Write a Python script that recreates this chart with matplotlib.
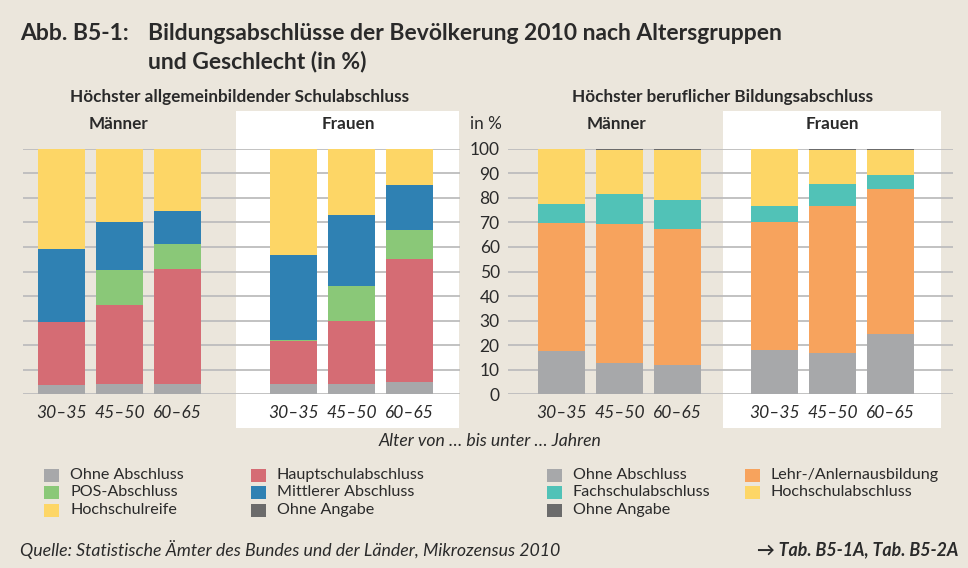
import matplotlib
matplotlib.use("Agg")
import matplotlib.pyplot as plt
from matplotlib.patches import Rectangle
import numpy as np

# Altersgruppen
groups = ["30–35", "45–50", "60–65"]

# Höchster allgemeinbildender Schulabschluss (in %), Männer / Frauen
schul_ohne_m = [3.8, 4.2, 4.2]
schul_ohne_f = [4.2, 4.2, 5.0]
schul_haupt_m = [25.8, 32.2, 46.8]
schul_haupt_f = [17.6, 25.7, 50.1]
schul_pos_m = [0.0, 14.2, 10.2]
schul_pos_f = [0.5, 14.2, 11.8]
schul_mittl_m = [29.7, 19.5, 13.4]
schul_mittl_f = [34.4, 28.9, 18.3]
schul_reife_m = [40.4, 29.6, 25.1]
schul_reife_f = [43.0, 26.7, 14.5]
schul_angabe_m = [0.3, 0.3, 0.3]
schul_angabe_f = [0.3, 0.3, 0.3]

# Höchster beruflicher Bildungsabschluss (in %), Männer / Frauen
beruf_ohne_m = [17.6, 12.8, 11.9]
beruf_ohne_f = [18.2, 17.0, 24.7]
beruf_lehr_m = [52.1, 56.5, 55.4]
beruf_lehr_f = [51.9, 59.7, 58.9]
beruf_fach_m = [7.8, 12.2, 11.8]
beruf_fach_f = [6.6, 8.9, 5.7]
beruf_hoch_m = [22.3, 18.0, 20.4]
beruf_hoch_f = [23.2, 13.9, 10.2]
beruf_angabe_m = [0.2, 0.5, 0.5]
beruf_angabe_f = [0.1, 0.5, 0.5]

schul_labels = ["Ohne Abschluss", "Hauptschulabschluss", "POS-Abschluss",
                "Mittlerer Abschluss", "Hochschulreife", "Ohne Angabe"]
beruf_labels = ["Ohne Abschluss", "Lehr-/Anlernausbildung", "Fachschulabschluss",
                "Hochschulabschluss", "Ohne Angabe"]

C_GREY = "#a7a8aa"
C_RED = "#d56c74"
C_GREEN = "#8ac878"
C_BLUE = "#2f81b3"
C_YELLOW = "#fdd666"
C_DARK = "#6b6b6b"
C_ORANGE = "#f7a35d"
C_TEAL = "#51c2b7"
BG = "#ebe6dc"
TXT = "#2a2a2a"
GRID = "#bdbdbd"

schul_colors = [C_GREY, C_RED, C_GREEN, C_BLUE, C_YELLOW, C_DARK]
beruf_colors = [C_GREY, C_ORANGE, C_TEAL, C_YELLOW, C_DARK]

plt.rcParams["font.family"] = ["Lato", "DejaVu Sans"]
plt.rcParams["text.color"] = TXT

W, H = 968, 568
fig = plt.figure(figsize=(W / 100, H / 100), dpi=100, facecolor=BG)


def fx(x):
    return x / W


def fy(y):
    return 1 - y / H


def box(x0, y0, x1, y1):
    return [fx(x0), fy(y1), fx(x1) - fx(x0), fy(y0) - fy(y1)]


# white panels behind the "Frauen" groups
for x0, x1 in [(236, 459), (723, 941)]:
    fig.add_artist(Rectangle((fx(x0), fy(428)), fx(x1) - fx(x0), fy(111) - fy(428),
                             transform=fig.transFigure, facecolor="white",
                             edgecolor="none", zorder=-5))


def stacked(ax, pos, series, colors):
    bottom = np.zeros(len(pos))
    for vals, col in zip(series, colors):
        ax.bar(pos, vals, 0.81, bottom=bottom, color=col, zorder=3)
        bottom += np.array(vals)


def style(ax, xlim, pos, show_y):
    ax.set_facecolor("none")
    ax.set_xlim(*xlim)
    ax.set_ylim(0, 100)
    ax.set_yticks(range(0, 101, 10))
    ax.yaxis.grid(True, color=GRID, lw=1.3)
    ax.set_axisbelow(True)
    for s in ax.spines.values():
        s.set_visible(False)
    ax.set_xticks(pos)
    ax.set_xticklabels(groups * 2, style="italic", fontsize=12.5)
    ax.tick_params(length=0, pad=8, colors=TXT)
    ax.tick_params(axis="y", labelsize=12.5, pad=6)
    if not show_y:
        ax.set_yticklabels([])


# left chart
ax1 = fig.add_axes(box(23, 148.7, 460, 394.3))
pos1 = [0, 1, 2, 4, 5, 6]
schul = [schul_ohne_m + schul_ohne_f, schul_haupt_m + schul_haupt_f,
         schul_pos_m + schul_pos_f, schul_mittl_m + schul_mittl_f,
         schul_reife_m + schul_reife_f, schul_angabe_m + schul_angabe_f]
stacked(ax1, pos1, schul, schul_colors)
style(ax1, (-0.664, 6.871), pos1, False)

# right chart
ax2 = fig.add_axes(box(508, 148.7, 953, 394.3))
pos2 = [0, 1, 2, 3.67, 4.67, 5.67]
beruf = [beruf_ohne_m + beruf_ohne_f, beruf_lehr_m + beruf_lehr_f,
         beruf_fach_m + beruf_fach_f, beruf_hoch_m + beruf_hoch_f,
         beruf_angabe_m + beruf_angabe_f]
stacked(ax2, pos2, beruf, beruf_colors)
style(ax2, (-0.922, 6.75), pos2, True)

# titles
fig.text(fx(20), fy(33), "Abb. B5-1:", fontsize=16.5, fontweight="bold", va="center")
fig.text(fx(148), fy(33), "Bildungsabschlüsse der Bevölkerung 2010 nach Altersgruppen",
         fontsize=16.5, fontweight="bold", va="center")
fig.text(fx(148), fy(62), "und Geschlecht (in %)", fontsize=16.5, fontweight="bold", va="center")

fig.text(fx(240), fy(97), "Höchster allgemeinbildender Schulabschluss", fontsize=12.3,
         fontweight="bold", ha="center", va="center")
fig.text(fx(723), fy(97), "Höchster beruflicher Bildungsabschluss", fontsize=12.3,
         fontweight="bold", ha="center", va="center")
for x, s in [(119, "Männer"), (348, "Frauen"), (617, "Männer"), (832, "Frauen")]:
    fig.text(fx(x), fy(124), s, fontsize=12.3, fontweight="bold", ha="center", va="center")
fig.text(fx(470), fy(124), "in %", fontsize=12.3, va="center")

fig.text(fx(490), fy(441), "Alter von … bis unter … Jahren", fontsize=12.7,
         style="italic", ha="center", va="center")

# legends
def legend_col(x, y0, labels, colors):
    for i, (lab, col) in enumerate(zip(labels, colors)):
        y = y0 + i * 17.5
        fig.add_artist(Rectangle((fx(x), fy(y + 6.5)), fx(15), 13 / H,
                                 transform=fig.transFigure, facecolor=col, edgecolor="none"))
        fig.text(fx(x + 26), fy(y), lab, fontsize=11.6, va="center")


legend_col(44, 475, [schul_labels[0], schul_labels[2], schul_labels[4]],
           [schul_colors[0], schul_colors[2], schul_colors[4]])
legend_col(251, 475, [schul_labels[1], schul_labels[3], schul_labels[5]],
           [schul_colors[1], schul_colors[3], schul_colors[5]])
legend_col(547, 475, [beruf_labels[0], beruf_labels[2], beruf_labels[4]],
           [beruf_colors[0], beruf_colors[2], beruf_colors[4]])
legend_col(745, 475, [beruf_labels[1], beruf_labels[3]],
           [beruf_colors[1], beruf_colors[3]])

# footer
fig.text(fx(20), fy(550), "Quelle: Statistische Ämter des Bundes und der Länder, Mikrozensus 2010",
         fontsize=12.8, style="italic", va="center")
fig.text(fx(958), fy(550), "→ Tab. B5-1A, Tab. B5-2A", fontsize=12.8, style="italic",
         fontweight="bold", ha="right", va="center")

fig.savefig("out.png", dpi=100, facecolor=BG)
